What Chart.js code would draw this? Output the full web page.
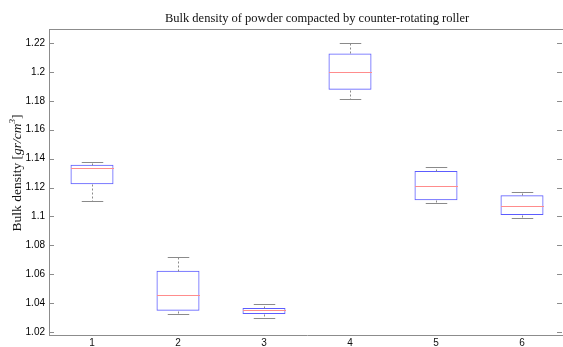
<!DOCTYPE html>
<html>
<head>
<meta charset="utf-8">
<script src="https://cdn.jsdelivr.net/npm/chart.js@4/dist/chart.umd.min.js"></script>
<style>
  html, body { margin: 0; padding: 0; background: #fff; overflow: hidden; }
  #wrap { width: 570px; height: 347px; }
</style>
</head>
<body>
<div id="wrap"><canvas id="c" width="570" height="347"></canvas></div>
<script>
const categories = ['1', '2', '3', '4', '5', '6'];
const whiskerLow  = [1.1105, 1.0323, 1.0295, 1.1816, 1.1096, 1.0992];
const q1          = [1.1223, 1.0348, 1.0325, 1.1876, 1.1112, 1.1011];
const median      = [1.1334, 1.0459, 1.0352, 1.1999, 1.1213, 1.1075];
const q3          = [1.1357, 1.0625, 1.0366, 1.2128, 1.1315, 1.1147];
const whiskerHigh = [1.1376, 1.0722, 1.0394, 1.2197, 1.1343, 1.1168];
const yTickValues = [1.02, 1.04, 1.06, 1.08, 1.10, 1.12, 1.14, 1.16, 1.18, 1.20, 1.22];
const yTickLabels = ['1.02', '1.04', '1.06', '1.08', '1.1', '1.12', '1.14', '1.16', '1.18', '1.2', '1.22'];
const titleText = 'Bulk density of powder compacted by counter-rotating roller';

const AXIS = '#8c8c8c';
const BOX = '#5c5cff';
const MED = '#ff8c8c';
const WHISK = '#8a8a8a';

const boxPlugin = {
  id: 'boxExtras',
  afterDatasetsDraw(chart) {
    const ctx = chart.ctx;
    const xs = chart.scales.x, ys = chart.scales.y;
    const meta = chart.getDatasetMeta(0);
    ctx.save();
    categories.forEach((c, i) => {
      const x = Math.round(xs.getPixelForValue(i)) + 0.5;
      const hw = meta.data[i].width / 2;
      const capHw = hw / 2;
      const py = v => Math.round(ys.getPixelForValue(v)) + 0.5;
      ctx.strokeStyle = WHISK;
      ctx.lineWidth = 1;
      ctx.setLineDash([2, 2]);
      ctx.beginPath();
      ctx.moveTo(x, py(q3[i])); ctx.lineTo(x, py(whiskerHigh[i]));
      ctx.moveTo(x, py(q1[i])); ctx.lineTo(x, py(whiskerLow[i]));
      ctx.stroke();
      ctx.setLineDash([]);
      ctx.beginPath();
      ctx.moveTo(x - capHw, py(whiskerHigh[i])); ctx.lineTo(x + capHw, py(whiskerHigh[i]));
      ctx.moveTo(x - capHw, py(whiskerLow[i])); ctx.lineTo(x + capHw, py(whiskerLow[i]));
      ctx.stroke();
      ctx.strokeStyle = MED;
      ctx.beginPath();
      ctx.moveTo(x - hw, py(median[i])); ctx.lineTo(x + hw, py(median[i]));
      ctx.stroke();
    });
    ctx.restore();
  },
  afterDraw(chart) {
    const ctx = chart.ctx;
    const a = chart.chartArea;
    const ys = chart.scales.y;
    ctx.save();
    ctx.strokeStyle = AXIS;
    ctx.lineWidth = 1;
    ctx.beginPath();
    ctx.moveTo(a.left, Math.round(a.top) + 0.5);
    ctx.lineTo(a.right, Math.round(a.top) + 0.5);
    ctx.moveTo(Math.round(a.right) - 0.5, a.top);
    ctx.lineTo(Math.round(a.right) - 0.5, a.bottom);
    ctx.stroke();
    ctx.beginPath();
    yTickValues.forEach(v => {
      const y = Math.round(ys.getPixelForValue(v)) + 0.5;
      ctx.moveTo(a.left, y); ctx.lineTo(a.left + 5, y);
      ctx.moveTo(a.right - 3, y); ctx.lineTo(a.right - 8, y);
    });
    ctx.stroke();
    ctx.fillStyle = '#111';
    ctx.font = '12.5px "Liberation Serif", "DejaVu Serif", serif';
    ctx.textAlign = 'center';
    ctx.textBaseline = 'alphabetic';
    ctx.fillText(titleText, 317, 22);
    const segs = [
      { t: 'Bulk density [', f: '13.5px "Liberation Serif", serif', dy: 0 },
      { t: 'gr/cm', f: 'italic 13.5px "Liberation Serif", serif', dy: 0 },
      { t: '3', f: 'italic 9px "Liberation Serif", serif', dy: -6 },
      { t: ']', f: '13.5px "Liberation Serif", serif', dy: 0 }
    ];
    let total = 0;
    segs.forEach(s => { ctx.font = s.f; s.w = ctx.measureText(s.t).width; total += s.w; });
    ctx.translate(21, 173);
    ctx.rotate(-Math.PI / 2);
    ctx.textAlign = 'left';
    let xx = -total / 2;
    segs.forEach(s => { ctx.font = s.f; ctx.fillText(s.t, xx, s.dy); xx += s.w; });
    ctx.restore();
  }
};

new Chart(document.getElementById('c'), {
  type: 'bar',
  data: {
    labels: categories,
    datasets: [{
      data: categories.map((c, i) => [q1[i], q3[i]]),
      backgroundColor: 'rgba(255,255,255,0)',
      borderColor: BOX,
      borderWidth: 1,
      borderSkipped: false,
      barPercentage: 0.5,
      categoryPercentage: 1
    }]
  },
  options: {
    responsive: false,
    animation: false,
    devicePixelRatio: 1,
    layout: { padding: { top: 29, right: 5, bottom: 0, left: 0 } },
    plugins: { legend: { display: false }, tooltip: { enabled: false }, title: { display: false } },
    scales: {
      x: {
        offset: true,
        grid: { display: false, drawTicks: false },
        border: { display: true, color: AXIS },
        ticks: { color: '#111', font: { family: '"Liberation Sans", Arial, sans-serif', size: 10 }, padding: 2 },
        afterFit(s) { s.height = 12; }
      },
      y: {
        min: 1.018,
        max: 1.2297,
        grid: { display: false, drawTicks: false },
        border: { display: true, color: AXIS },
        afterBuildTicks(s) { s.ticks = yTickValues.map(v => ({ value: v })); },
        ticks: {
          color: '#000',
          font: { family: '"Liberation Sans", Arial, sans-serif', size: 10 },
          padding: 4,
          callback: (v, i) => yTickLabels[i]
        },
        afterFit(s) { s.width = 49; }
      }
    }
  },
  plugins: [boxPlugin]
});
</script>
</body>
</html>
